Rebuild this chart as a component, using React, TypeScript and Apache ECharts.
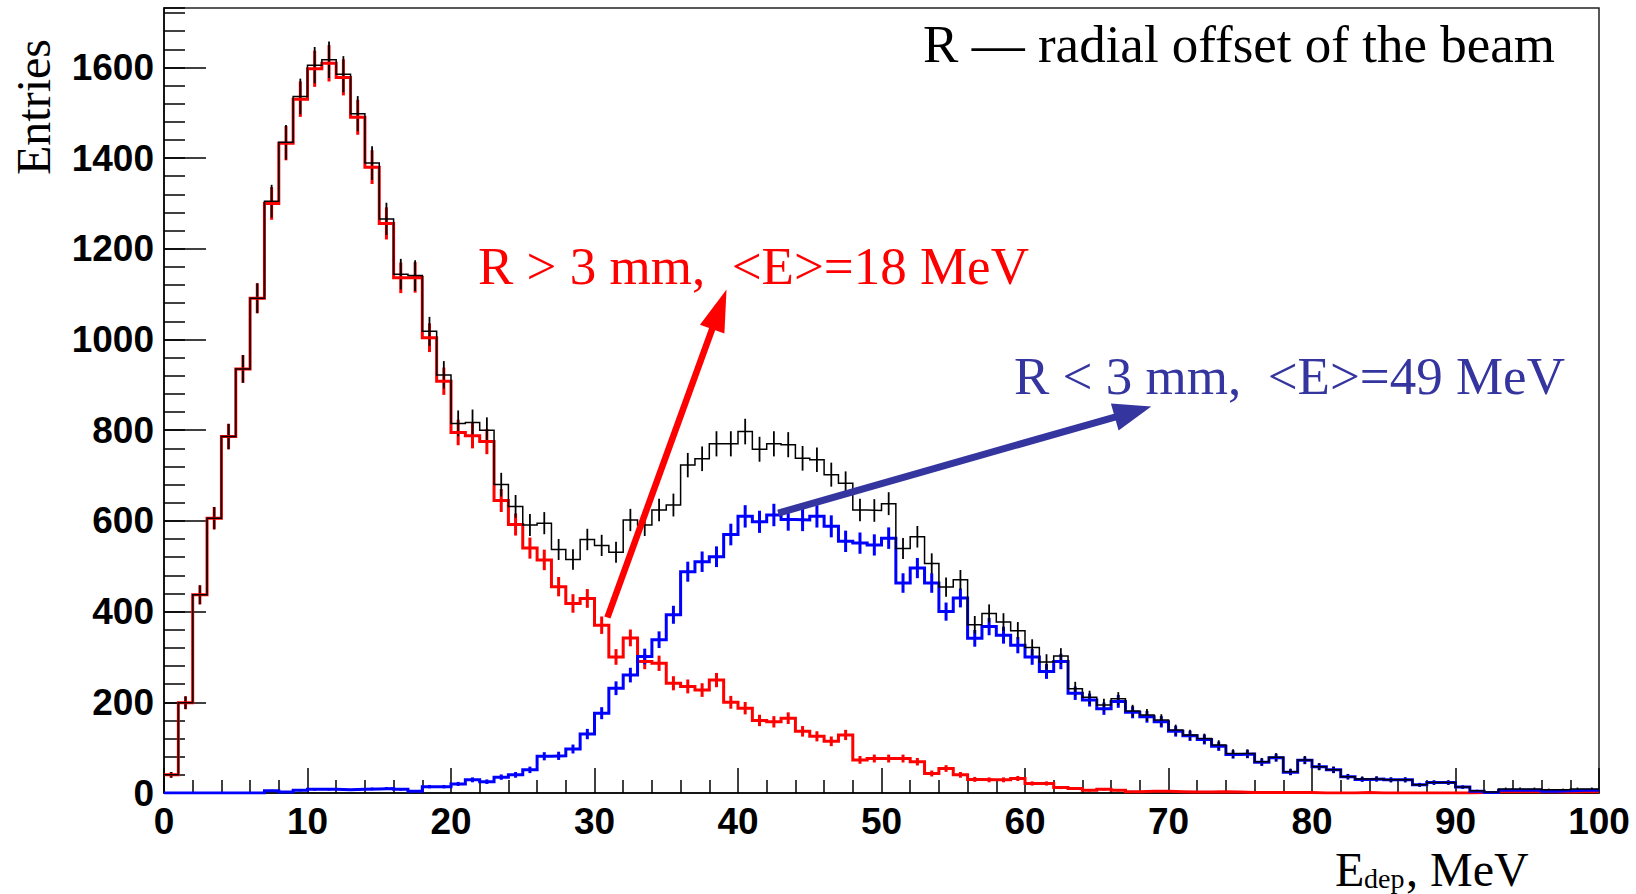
import React, { useEffect, useRef } from "react";
import * as echarts from "echarts";

// Histogram binning (MeV)
const X_MIN = 0;
const X_MAX = 100;
const BIN_WIDTH = 1;
const Y_MAX = 1731;

// All events (black)
const totalCounts = [
  40, 199, 437, 606, 786, 935, 1091, 1305, 1435, 1536,
  1605, 1617, 1585, 1498, 1389, 1266, 1144, 1141, 1018, 922,
  815, 817, 800, 680, 632, 591, 595, 537, 515, 559,
  546, 531, 602, 591, 624, 635, 723, 737, 770, 770,
  797, 758, 770, 768, 738, 735, 702, 683, 624, 623,
  638, 539, 565, 506, 454, 470, 371, 396, 377, 358,
  321, 289, 302, 230, 211, 194, 208, 181, 172, 161,
  139, 128, 120, 106, 87, 87, 69, 79, 47, 73,
  58, 51, 36, 31, 31, 29, 29, 18, 23, 23,
  13, 5, 2, 9, 9, 9, 7, 7, 9, 9,
];

// R > 3 mm (red)
const outerCounts = [
  40, 199, 437, 606, 786, 935, 1091, 1300, 1433, 1530,
  1597, 1609, 1578, 1490, 1380, 1256, 1136, 1137, 1004, 908,
  795, 788, 775, 645, 592, 540, 514, 455, 418, 429,
  370, 300, 342, 290, 286, 242, 235, 227, 249, 200,
  187, 160, 157, 165, 136, 125, 114, 128, 73, 76,
  76, 76, 69, 43, 54, 40, 30, 29, 29, 32,
  21, 21, 12, 10, 6, 8, 6, 3, 4, 4,
  3, 2, 2, 3, 2, 1, 1, 1, 1, 1,
  0, 0, 0, 1, 0, 0, 0, 0, 0, 0,
  0, 1, 1, 3, 3, 3, 3, 2, 3, 3,
];

// R < 3 mm (blue)
const innerCounts = [
  0, 0, 0, 0, 0, 0, 0, 5, 2, 6,
  8, 8, 7, 8, 9, 10, 8, 4, 14, 14,
  20, 29, 25, 35, 40, 51, 81, 82, 97, 130,
  176, 231, 260, 301, 338, 393, 488, 510, 521, 570,
  610, 598, 613, 603, 602, 610, 588, 555, 551, 547,
  562, 463, 496, 463, 400, 430, 341, 367, 348, 326,
  300, 268, 290, 220, 205, 186, 202, 178, 168, 157,
  136, 126, 118, 103, 85, 86, 68, 78, 46, 72,
  58, 51, 36, 30, 31, 29, 29, 18, 23, 23,
  13, 4, 1, 6, 6, 6, 4, 5, 6, 6,
];

// Annotation arrows: [x start, y start, x tip, y tip] in data units
const arrowOuter = [30.9, 387, 39.2, 1110];
const arrowInner = [42.8, 617, 68.8, 852];

const RED = "#ff0000";
const BLUE = "#0000ff";
const ARROW_BLUE = "#3535a0";
const SERIF = "'Liberation Serif', 'Times New Roman', serif";
const SANS = "'Liberation Sans', Arial, sans-serif";

function stepPoints(counts: number[]) {
  const pts = counts.map((c, i) => [X_MIN + i * BIN_WIDTH, c]);
  pts.push([X_MIN + counts.length * BIN_WIDTH, counts[counts.length - 1]]);
  return pts;
}

function errPoints(counts: number[]) {
  return counts.map((c, i) => [X_MIN + (i + 0.5) * BIN_WIDTH, c, Math.sqrt(c)]);
}

function histSeries(counts: number[], color: string, width: number) {
  return {
    type: "line",
    data: stepPoints(counts),
    step: "end",
    symbol: "none",
    showSymbol: false,
    silent: true,
    clip: true,
    lineStyle: { color, width, join: "miter" },
  };
}

function errSeries(counts: number[], color: string, width: number) {
  return {
    type: "custom",
    data: errPoints(counts),
    encode: { x: 0, y: 1 },
    silent: true,
    clip: true,
    renderItem: (params: any, api: any) => {
      const x = api.value(0);
      const y = api.value(1);
      const e = api.value(2);
      if (!(e > 0)) return { type: "group", children: [] };
      const p1 = api.coord([x, Math.max(0, y - e)]);
      const p2 = api.coord([x, y + e]);
      return {
        type: "line",
        shape: { x1: p1[0], y1: p1[1], x2: p2[0], y2: p2[1] },
        style: { stroke: color, lineWidth: width },
      };
    },
  };
}

function arrowSeries(arrow: number[], color: string, width: number, headLen: number, headHalf: number) {
  return {
    type: "custom",
    data: [arrow],
    silent: true,
    clip: false,
    z: 5,
    renderItem: (params: any, api: any) => {
      const p1 = api.coord([api.value(0), api.value(1)]);
      const p2 = api.coord([api.value(2), api.value(3)]);
      const dx = p2[0] - p1[0];
      const dy = p2[1] - p1[1];
      const len = Math.hypot(dx, dy);
      const ux = dx / len;
      const uy = dy / len;
      const bx = p2[0] - ux * headLen;
      const by = p2[1] - uy * headLen;
      const nx = -uy;
      const ny = ux;
      return {
        type: "group",
        children: [
          {
            type: "line",
            shape: { x1: p1[0], y1: p1[1], x2: bx + ux * 2, y2: by + uy * 2 },
            style: { stroke: color, lineWidth: width },
          },
          {
            type: "polygon",
            shape: {
              points: [
                [p2[0], p2[1]],
                [bx + nx * headHalf, by + ny * headHalf],
                [bx - nx * headHalf, by - ny * headHalf],
              ],
            },
            style: { fill: color },
          },
        ],
      };
    },
  };
}

export default function App() {
  const ref = useRef<HTMLDivElement>(null);

  useEffect(() => {
    if (!ref.current) return;
    const chart = echarts.init(ref.current, null, { renderer: "svg" });
    const tickStyle = { color: "#000", width: 1.5 };
    const option: any = {
      animation: false,
      backgroundColor: "#ffffff",
      grid: {
        left: 164,
        right: 37,
        top: 8,
        bottom: 101,
        show: true,
        borderColor: "#222",
        borderWidth: 1.5,
        backgroundColor: "#ffffff",
      },
      xAxis: {
        type: "value",
        min: X_MIN,
        max: X_MAX,
        interval: 10,
        axisLine: { show: true, lineStyle: { color: "#000", width: 1.5 } },
        axisTick: { show: true, inside: true, length: 25, lineStyle: tickStyle },
        minorTick: { show: true, splitNumber: 5, length: 13, lineStyle: tickStyle },
        splitLine: { show: false },
        axisLabel: {
          margin: 10,
          color: "#000",
          fontFamily: SANS,
          fontWeight: "bold",
          fontSize: 37,
          formatter: (v: number) => String(v),
        },
      },
      yAxis: [
        {
          type: "value",
          min: 0,
          max: Y_MAX,
          interval: 200,
          position: "left",
          axisLine: { show: true, lineStyle: { color: "#000", width: 1.5 } },
          axisTick: { show: true, inside: true, length: 42, lineStyle: tickStyle },
          splitLine: { show: false },
          axisLabel: {
            margin: 10,
            color: "#000",
            fontFamily: SANS,
            fontWeight: "bold",
            fontSize: 37,
            showMaxLabel: false,
            formatter: (v: number) => String(v),
          },
        },
        {
          type: "value",
          min: 0,
          max: Y_MAX,
          interval: 40,
          position: "left",
          offset: 0,
          axisLine: { show: false },
          axisTick: { show: true, inside: true, length: 21, lineStyle: tickStyle },
          splitLine: { show: false },
          axisLabel: { show: false },
        },
      ],
      series: [
        histSeries(outerCounts, RED, 3),
        errSeries(outerCounts, RED, 3),
        histSeries(innerCounts, BLUE, 3),
        errSeries(innerCounts, BLUE, 3),
        histSeries(totalCounts, "#000", 1.5),
        errSeries(totalCounts, "#000", 1.8),
        arrowSeries(arrowOuter, RED, 6.5, 42, 13),
        arrowSeries(arrowInner, ARROW_BLUE, 7, 38, 14),
      ],
      graphic: [
        {
          type: "text",
          x: 1555,
          y: 44,
          style: {
            text: "R \u2014 radial offset of the beam",
            fill: "#000",
            font: `53px ${SERIF}`,
            align: "right",
            verticalAlign: "middle",
          },
        },
        {
          type: "text",
          x: 478,
          y: 266,
          z: 10,
          style: {
            text: "R > 3 mm,\u00a0 <E>=18 MeV",
            fill: RED,
            font: `53px ${SERIF}`,
            align: "left",
            verticalAlign: "middle",
          },
        },
        {
          type: "text",
          x: 1014,
          y: 376,
          z: 10,
          style: {
            text: "R < 3 mm,\u00a0 <E>=49 MeV",
            fill: ARROW_BLUE,
            font: `53px ${SERIF}`,
            align: "left",
            verticalAlign: "middle",
          },
        },
        {
          type: "text",
          x: 33,
          y: 107,
          rotation: Math.PI / 2,
          style: {
            text: "Entries",
            fill: "#000",
            font: `48px ${SERIF}`,
            align: "center",
            verticalAlign: "middle",
          },
        },
        {
          type: "text",
          x: 1335,
          y: 869,
          style: {
            text: "E",
            fill: "#000",
            font: `48px ${SERIF}`,
            align: "left",
            verticalAlign: "middle",
          },
        },
        {
          type: "text",
          x: 1364,
          y: 878,
          style: {
            text: "dep",
            fill: "#000",
            font: `28px ${SERIF}`,
            align: "left",
            verticalAlign: "middle",
          },
        },
        {
          type: "text",
          x: 1406,
          y: 869,
          style: {
            text: ", MeV",
            fill: "#000",
            font: `48px ${SERIF}`,
            align: "left",
            verticalAlign: "middle",
          },
        },
      ],
    };
    chart.setOption(option);
    return () => {
      chart.dispose();
    };
  }, []);

  return (
    <div
      ref={ref}
      style={{ position: "fixed", left: 0, top: 0, width: 1636, height: 894, background: "#fff" }}
    />
  );
}
